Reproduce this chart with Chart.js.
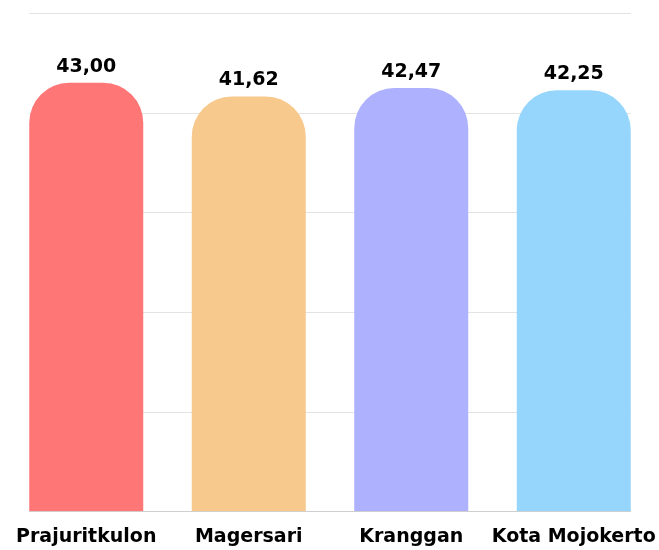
<!DOCTYPE html>
<html>
<head>
<meta charset="utf-8">
<script src="https://cdn.jsdelivr.net/npm/chart.js@4.4.1/dist/chart.umd.min.js"></script>
<style>
  html, body { margin: 0; padding: 0; background: #ffffff; }
  #wrap { width: 659px; height: 550px; }
</style>
</head>
<body>
<div id="wrap"><canvas id="c" width="659" height="550"></canvas></div>
<script>
const categories = ["Prajuritkulon", "Magersari", "Kranggan", "Kota Mojokerto"];
const values = [43.00, 41.62, 42.47, 42.25];
const barColors = ["#FF7676", "#F7C98C", "#ADB1FE", "#97D6FC"];
const yTicks = [0, 10, 20, 30, 40, 50];

const FONT = "'DejaVu Sans', sans-serif";

const gridPlugin = {
  id: 'customGrid',
  beforeDatasetsDraw(chart) {
    const meta = chart.getDatasetMeta(0);
    if (!meta.data.length) return;
    const first = meta.data[0], last = meta.data[meta.data.length - 1];
    const x0 = first.x - first.width / 2;
    const x1 = last.x + last.width / 2;
    const y = chart.scales.y;
    const ctx = chart.ctx;
    ctx.save();
    yTicks.forEach(v => {
      const py = Math.round(y.getPixelForValue(v)) + 0.5;
      ctx.beginPath();
      ctx.strokeStyle = v === 0 ? '#cfcfcf' : '#e3e3e3';
      ctx.lineWidth = 1;
      ctx.moveTo(x0, py);
      ctx.lineTo(x1, py);
      ctx.stroke();
    });
    ctx.restore();
  }
};

const labelPlugin = {
  id: 'valueLabels',
  afterDatasetsDraw(chart) {
    const meta = chart.getDatasetMeta(0);
    const ctx = chart.ctx;
    ctx.save();
    ctx.font = "700 19px " + FONT;
    ctx.fillStyle = '#000000';
    ctx.textAlign = 'center';
    ctx.textBaseline = 'alphabetic';
    meta.data.forEach((bar, i) => {
      const txt = values[i].toFixed(2).replace('.', ',');
      ctx.fillText(txt, bar.x, bar.y - 11);
    });
    ctx.restore();
  }
};

new Chart(document.getElementById('c'), {
  type: 'bar',
  data: {
    labels: categories,
    datasets: [{
      data: values,
      backgroundColor: barColors,
      borderWidth: 0,
      borderRadius: { topLeft: 40, topRight: 40, bottomLeft: 0, bottomRight: 0 },
      borderSkipped: 'bottom',
      barPercentage: 0.7015,
      categoryPercentage: 1.0
    }]
  },
  options: {
    responsive: false,
    animation: false,
    devicePixelRatio: 1,
    layout: { padding: { left: 5, right: 4, top: 13, bottom: -12 } },
    plugins: { legend: { display: false }, tooltip: { enabled: false } },
    scales: {
      x: {
        grid: { display: false, drawTicks: false },
        border: { display: false },
        afterFit(scale) { scale.paddingLeft = 0; scale.paddingRight = 0; },
        ticks: {
          color: '#000000',
          padding: 14,
          maxRotation: 0,
          minRotation: 0,
          autoSkip: false,
          font: { family: FONT, size: 19, weight: '700' }
        }
      },
      y: {
        display: false,
        min: 0,
        max: 50
      }
    }
  },
  plugins: [gridPlugin, labelPlugin]
});
</script>
</body>
</html>
